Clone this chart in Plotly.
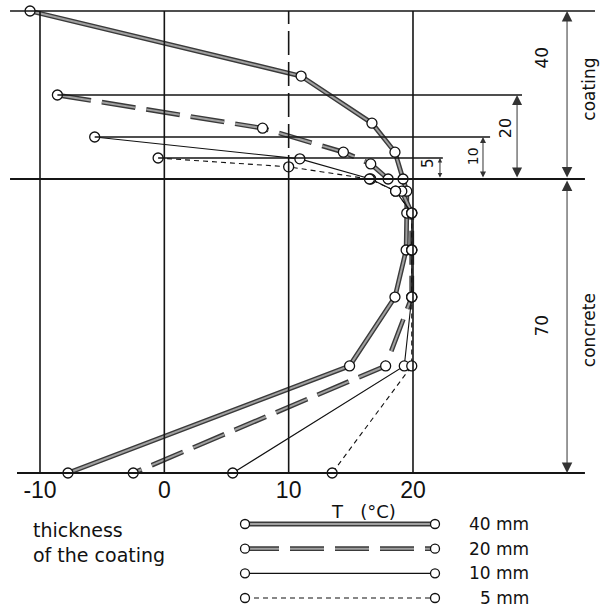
import plotly.graph_objects as go

# ---------------- data ----------------
series_names = ["40 mm", "20 mm", "10 mm", "5 mm"]
coating_thickness = [40, 20, 10, 5]
concrete_thickness = 70

# temperatures (°C) and heights above the concrete bottom (mm)
temp_40 = [-10.8, 11.0, 16.7, 18.55, 19.2, 19.5, 19.5, 19.45, 18.55, 14.9, -7.75]
y_40 = [110, 94.5, 83.3, 76.4, 70, 67.1, 61.9, 53.1, 41.9, 25.5, 0]

temp_20 = [-8.6, 7.9, 14.4, 16.6, 18.0, 19.1, 19.9, 19.9, 19.9, 17.8, -2.5]
y_20 = [90, 82.1, 76.4, 73.6, 70, 67.1, 61.9, 53.1, 41.9, 25.5, 0]

temp_10 = [-5.6, 10.9, 16.6, 18.6, 19.9, 19.9, 19.9, 19.3, 5.5]
y_10 = [80, 74.8, 70, 67.1, 61.9, 53.1, 41.9, 25.5, 0]

temp_5 = [-0.5, 10.0, 16.5, 18.6, 19.9, 19.9, 19.9, 19.9, 13.5]
y_5 = [75, 72.9, 70, 67.1, 61.9, 53.1, 41.9, 25.5, 0]

grid_temps = [-10, 0, 10, 20]
tick_labels = ["-10", "0", "10", "20"]

# ---------------- layout helpers ----------------
X_RANGE = [-13.217, 35.202]
Y_RANGE = [-31.9, 112.62]
AX_POS = (607 - 473) / 607

temps = [temp_40, temp_20, temp_10, temp_5]
ys = [y_40, y_20, y_10, y_5]

fig = go.Figure()

# line styles
def add_series(t, y, idx, xa="x", ya="y"):
    if idx == 0:
        fig.add_trace(go.Scatter(x=t, y=y, mode="lines", xaxis=xa, yaxis=ya,
                                 line=dict(color="#3a3a3a", width=4.8), cliponaxis=False, showlegend=False))
        fig.add_trace(go.Scatter(x=t, y=y, mode="lines", xaxis=xa, yaxis=ya,
                                 line=dict(color="#a0a0a0", width=2.0), cliponaxis=False, showlegend=False))
    elif idx == 1:
        fig.add_trace(go.Scatter(x=t, y=y, mode="lines", xaxis=xa, yaxis=ya,
                                 line=dict(color="#3a3a3a", width=4.8, dash="34px,11px"), cliponaxis=False, showlegend=False))
        fig.add_trace(go.Scatter(x=t, y=y, mode="lines", xaxis=xa, yaxis=ya,
                                 line=dict(color="#a0a0a0", width=2.0, dash="34px,11px"), cliponaxis=False, showlegend=False))
    elif idx == 2:
        fig.add_trace(go.Scatter(x=t, y=y, mode="lines", xaxis=xa, yaxis=ya,
                                 line=dict(color="#111", width=1.1), cliponaxis=False, showlegend=False))
    else:
        fig.add_trace(go.Scatter(x=t, y=y, mode="lines", xaxis=xa, yaxis=ya,
                                 line=dict(color="#111", width=1.1, dash="5px,4px"), cliponaxis=False, showlegend=False))

for i in range(4):
    add_series(temps[i], ys[i], i)
for i in range(4):
    fig.add_trace(go.Scatter(x=temps[i], y=ys[i], mode="markers", cliponaxis=False, showlegend=False,
                             marker=dict(size=10, color="white", line=dict(color="#111", width=1.3))))

# legend drawn on its own small axes
for i, name in enumerate(series_names):
    add_series([0, 1], [i, i], i, "x2", "y2")
    fig.add_trace(go.Scatter(x=[0, 1], y=[i, i], mode="markers", xaxis="x2", yaxis="y2",
                             cliponaxis=False, showlegend=False,
                             marker=dict(size=9, color="white", line=dict(color="#111", width=1.3))))

# ---------------- grid / construction lines ----------------
shapes = []
LC = "#151515"
for g in grid_temps:
    if g == 10:
        shapes.append(dict(type="line", x0=g, x1=g, y0=concrete_thickness, y1=concrete_thickness + 40,
                           xref="x", yref="y", line=dict(color=LC, width=1.6, dash="24px,7px")))
        shapes.append(dict(type="line", x0=g, x1=g, y0=0, y1=concrete_thickness,
                           xref="x", yref="y", line=dict(color=LC, width=1.6)))
    else:
        shapes.append(dict(type="line", x0=g, x1=g, y0=0, y1=concrete_thickness + 40,
                           xref="x", yref="y", line=dict(color=LC, width=1.6)))

# horizontal lines: coating tops, interface, bottom
top_start = [-12.41, temp_20[0], temp_10[0], temp_5[0]]
top_end = [34.64, 28.77, 26.2, 22.4]
for k, th in enumerate(coating_thickness):
    shapes.append(dict(type="line", x0=top_start[k], x1=top_end[k],
                       y0=concrete_thickness + th, y1=concrete_thickness + th,
                       xref="x", yref="y", line=dict(color=LC, width=1.4)))
shapes.append(dict(type="line", x0=-12.41, x1=33.83, y0=concrete_thickness, y1=concrete_thickness,
                   xref="x", yref="y", line=dict(color=LC, width=1.8)))
shapes.append(dict(type="line", x0=-11.85, x1=33.83, y0=0, y1=0,
                   xref="x", yref="y", line=dict(color=LC, width=1.8)))

annotations = []
# dimension arrows
dim_x = [32.39, 28.37, 25.63, 22.17]
dim_size = [2.1, 2.0, 1.2, 0.9]
for k, th in enumerate(coating_thickness):
    annotations.append(dict(x=dim_x[k], y=concrete_thickness + th, ax=dim_x[k], ay=concrete_thickness,
                            xref="x", yref="y", axref="x", ayref="y", text="", showarrow=True,
                            arrowhead=2, arrowside="end+start", arrowsize=dim_size[k],
                            arrowwidth=1, arrowcolor="#333", standoff=0, startstandoff=0))
annotations.append(dict(x=dim_x[0], y=0, ax=dim_x[0], ay=concrete_thickness,
                        xref="x", yref="y", axref="x", ayref="y", text="", showarrow=True,
                        arrowhead=2, arrowside="end+start", arrowsize=2.1,
                        arrowwidth=1, arrowcolor="#333", standoff=0, startstandoff=0))

TXT = "DejaVu Sans"
dim_lab_x = [30.4, 27.4, 24.85, 21.15]
dim_lab_y = [99, 82.1, 75.5, 73.9]
dim_lab_size = [17, 16, 14, 15]
for k, th in enumerate(coating_thickness):
    annotations.append(dict(x=dim_lab_x[k], y=dim_lab_y[k], xref="x", yref="y", text=str(th),
                            showarrow=False, textangle=-90,
                            font=dict(family=TXT, size=dim_lab_size[k], color="#111")))
annotations.append(dict(x=30.4, y=35.2, xref="x", yref="y", text=str(concrete_thickness),
                        showarrow=False, textangle=-90, font=dict(family=TXT, size=17, color="#111")))
annotations.append(dict(x=34.15, y=91.5, xref="x", yref="y", text="coating",
                        showarrow=False, textangle=-90, font=dict(family=TXT, size=17, color="#111")))
annotations.append(dict(x=34.15, y=34, xref="x", yref="y", text="concrete",
                        showarrow=False, textangle=-90, font=dict(family=TXT, size=17, color="#111")))

# axis title
annotations.append(dict(x=329 / 602, y=(607 - 511) / 607, xref="paper", yref="paper",
                        xanchor="left", yanchor="middle", text="T   (°C)", showarrow=False,
                        font=dict(family=TXT, size=18, color="#111")))
# legend caption
annotations.append(dict(x=31 / 602, y=(607 - 542) / 607, xref="paper", yref="paper",
                        xanchor="left", yanchor="middle", align="left",
                        text="thickness<br>of the coating", showarrow=False,
                        font=dict(family=TXT, size=19, color="#111")))
# legend labels
for i, name in enumerate(series_names):
    annotations.append(dict(x=531 / 602, y=i, xref="paper", yref="y2", xanchor="right",
                            yanchor="middle", text=name, showarrow=False,
                            font=dict(family=TXT, size=17, color="#111")))

fig.update_layout(
    width=602, height=607,
    margin=dict(l=0, r=0, t=0, b=0),
    paper_bgcolor="white", plot_bgcolor="white",
    shapes=shapes, annotations=annotations, showlegend=False,
    xaxis=dict(range=X_RANGE, domain=[0, 1], anchor="free", position=AX_POS,
               tickvals=grid_temps, ticktext=tick_labels, showgrid=False, zeroline=False,
               showline=False, ticks="", ticklabelstandoff=1,
               tickfont=dict(family="Liberation Sans, Arial, sans-serif", size=23, color="#111")),
    yaxis=dict(range=Y_RANGE, domain=[0, 1], visible=False, showgrid=False, zeroline=False),
    xaxis2=dict(range=[0, 1], domain=[245 / 602, 435 / 602], anchor="y2", visible=False),
    yaxis2=dict(range=[3.365, -0.486], domain=[0, 95 / 607], anchor="x2", visible=False),
)

fig.write_html(
    "out.html",
    config={"displayModeBar": False},
    post_script="document.body.style.margin='0';document.body.style.overflow='hidden';",
)
